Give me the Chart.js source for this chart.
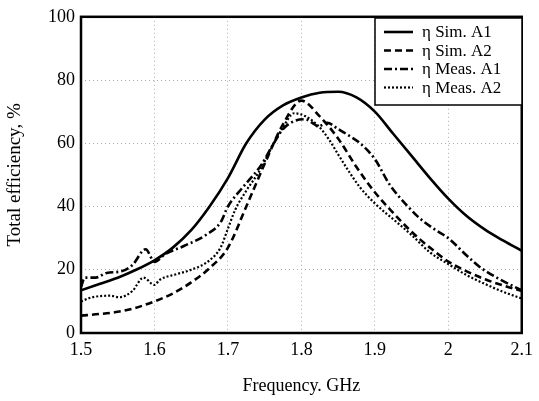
<!DOCTYPE html>
<html>
<head>
<meta charset="utf-8">
<script src="https://cdn.jsdelivr.net/npm/chart.js@4/dist/chart.umd.min.js"></script>
<style>
  html, body { margin: 0; padding: 0; background: #fff; }
  #wrap { width: 539px; height: 401px; }
</style>
</head>
<body>
<div id="wrap"><canvas id="chart"></canvas></div>
<script>
const xTicks = [1.5, 1.6, 1.7, 1.8, 1.9, 2, 2.1];
const yTicks = [0, 20, 40, 60, 80, 100];

// simulated curves share one frequency grid (GHz)
const simFreq = [1.5, 1.525, 1.55, 1.575, 1.6, 1.625, 1.65, 1.675, 1.7, 1.725, 1.75, 1.775, 1.8,
                 1.825, 1.85, 1.875, 1.9, 1.925, 1.95, 1.975, 2.0, 2.025, 2.05, 2.075, 2.1];
const simA1 = [13.5, 15.5, 17.5, 20, 23, 27, 32.5, 40, 49, 60, 67.5, 72, 74.5,
               76, 76.3, 74.5, 70, 63, 56, 49, 42.5, 37, 32.7, 29.2, 26];
const simA2 = [5.5, 6, 6.7, 8, 10, 12.5, 16, 20.5, 27, 40, 53.5, 66, 73.5,
               68.5, 61.5, 52.5, 44.5, 38, 32, 27, 22.6, 19.5, 17, 15, 13.3];

// measured curves
const measA1Freq = [1.5, 1.505, 1.52, 1.535, 1.555, 1.57, 1.588, 1.6, 1.615, 1.64, 1.67, 1.69, 1.7,
                    1.72, 1.745, 1.76, 1.775, 1.79, 1.805, 1.818, 1.823, 1.835, 1.85, 1.865, 1.88,
                    1.9, 1.92, 1.945, 1.96, 1.98, 2.0, 2.025, 2.045, 2.07, 2.1];
const measA1 = [14.5, 17.5, 17.5, 19, 19.5, 21.5, 26.5, 22.5, 25, 27.5, 31, 35, 40,
                46, 53, 59, 64.5, 67, 67.6, 66, 65.3, 66.5, 64.5, 62.4, 60,
                55, 47, 40, 36.5, 33, 30, 24.5, 20.5, 17, 13.5];

const measA2Freq = [1.5, 1.515, 1.54, 1.552, 1.57, 1.585, 1.6, 1.607, 1.63, 1.65, 1.675, 1.69, 1.7,
                    1.71, 1.725, 1.745, 1.76, 1.775, 1.79, 1.805, 1.823, 1.837, 1.85, 1.865, 1.88,
                    1.9, 1.93, 1.95, 1.975, 2.0, 2.025, 2.05, 2.075, 2.1];
const measA2 = [10, 11.3, 11.8, 11.3, 13.3, 17.5, 15.2, 16.8, 18.6, 20, 23, 27, 33,
                39, 45, 52, 59, 65, 69.5, 68.6, 65.5, 61.4, 56.5, 51, 46,
                41, 35, 31, 25.5, 21.8, 18.3, 15.5, 13, 10.9];

const seriesNames = ["\u03b7 Sim. A1", "\u03b7 Sim. A2", "\u03b7 Meas. A1", "\u03b7 Meas. A2"];

const SERIF = "'Liberation Serif', 'DejaVu Serif', serif";

function pts(xs, ys) {
    return xs.map((x, i) => ({ x: x, y: ys[i] }));
}

function line(label, data, dash, width) {
    return {
        label: label,
        data: data,
        borderColor: "#000",
        borderWidth: width,
        borderDash: dash,
        pointRadius: 0,
        fill: false,
        cubicInterpolationMode: "monotone"
    };
}

// frame round the plot plus the legend box inside it
const framePlugin = {
    id: "frame",
    afterDatasetsDraw(chart) {
        const ctx = chart.ctx;
        const a = chart.chartArea;
        ctx.save();
        ctx.strokeStyle = "#000";
        ctx.lineWidth = 2.5;
        ctx.strokeRect(a.left, a.top, a.right - a.left, a.bottom - a.top);

        // legend
        const bx = 375, by = 18, bw = 147, bh = 87;
        ctx.fillStyle = "#fff";
        ctx.fillRect(bx, by, bw, bh);
        ctx.lineWidth = 1.5;
        ctx.strokeRect(bx, by, bw, bh);
        ctx.font = "17px " + SERIF;
        ctx.textBaseline = "middle";
        chart.data.datasets.forEach((ds, i) => {
            const y = by + 14 + i * 18.5;
            ctx.beginPath();
            ctx.setLineDash(ds.borderDash);
            ctx.lineWidth = ds.borderWidth;
            ctx.moveTo(384, y);
            ctx.lineTo(413, y);
            ctx.stroke();
            ctx.setLineDash([]);
            ctx.fillStyle = "#000";
            ctx.fillText(ds.label, 422, y + 1);
        });
        ctx.restore();
    }
};

new Chart(document.getElementById("chart"), {
    type: "line",
    data: {
        datasets: [
            line(seriesNames[0], pts(simFreq, simA1), [], 2.6),
            line(seriesNames[1], pts(simFreq, simA2), [7, 4], 2.6),
            line(seriesNames[2], pts(measA1Freq, measA1), [8, 3, 2, 3], 2.6),
            line(seriesNames[3], pts(measA2Freq, measA2), [2, 2], 2.2)
        ]
    },
    options: {
        responsive: true,
        maintainAspectRatio: false,
        animation: false,
        layout: { padding: { top: 10, right: 15, left: 0, bottom: 0 } },
        plugins: { legend: { display: false }, tooltip: { enabled: false } },
        scales: {
            x: {
                type: "linear",
                min: 1.5,
                max: 2.1,
                afterBuildTicks: s => { s.ticks = xTicks.map(v => ({ value: v })); },
                afterFit: s => { s.height = 68; },
                ticks: {
                    color: "#000",
                    font: { family: SERIF, size: 18 },
                    padding: 6,
                    maxRotation: 0,
                    callback: v => String(v)
                },
                grid: { color: "#aaa", drawTicks: false },
                border: { display: false, dash: [1, 3] },
                title: {
                    display: true,
                    text: "Frequency. GHz",
                    color: "#000",
                    font: { family: SERIF, size: 18 },
                    padding: { top: 5 }
                }
            },
            y: {
                min: 0,
                max: 100,
                afterBuildTicks: s => { s.ticks = yTicks.map(v => ({ value: v })); },
                afterFit: s => { s.width = 81; },
                ticks: {
                    color: "#000",
                    font: { family: SERIF, size: 18 },
                    padding: 6
                },
                grid: { color: "#aaa", drawTicks: false },
                border: { display: false, dash: [1, 3] },
                title: {
                    display: true,
                    text: "Total efficiency, %",
                    color: "#000",
                    font: { family: SERIF, size: 19 },
                    padding: { bottom: 4 }
                }
            }
        }
    },
    plugins: [framePlugin]
});
</script>
</body>
</html>
